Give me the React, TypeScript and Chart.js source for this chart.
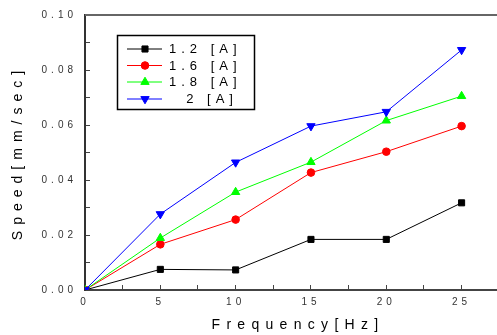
import React, { useEffect, useRef } from 'react';
import { Chart, registerables } from 'chart.js';
import { drawPoint } from 'chart.js/helpers';

Chart.register(...registerables);

const frequencyHz = [0, 5, 10, 15, 20, 25];
const speed12A = [0, 0.0075, 0.0073, 0.0184, 0.0184, 0.0317];
const speed16A = [0, 0.0166, 0.0256, 0.0427, 0.0503, 0.0596];
const speed18A = [0, 0.0189, 0.0356, 0.0465, 0.0616, 0.0705];
const speed20A = [0, 0.0276, 0.0464, 0.0596, 0.0648, 0.0873];
const seriesLabels = ['1.2 [A]', '1.6 [A]', '1.8 [A]', '  2 [A]'];
const xTickLabels = ['0', '5', '10', '15', '20', '25'];
const yTickLabels = ['0.00', '0.02', '0.04', '0.06', '0.08', '0.10'];
const xAxisTitle = 'Frequency[Hz]';
const yAxisTitle = 'Speed[mm/sec]';

const FONT = '"Liberation Sans", Arial, sans-serif';

const spacingPlugin = {
  id: 'spacing',
  beforeDraw(chart: any) {
    Object.values(chart.scales).forEach((s: any) => {
      if (s.__patched) return;
      s.__patched = true;
      const dl = s.drawLabels.bind(s);
      const dt = s.drawTitle.bind(s);
      s.drawLabels = (a: any) => {
        const c = s.ctx;
        c.save();
        c.letterSpacing = '4px';
        dl(a);
        c.restore();
      };
      s.drawTitle = (a: any) => {
        const c = s.ctx;
        c.save();
        if (s.isHorizontal()) {
          c.letterSpacing = '6.3px';
          c.translate(7, 0);
        } else {
          c.letterSpacing = '6px';
        }
        dt(a);
        c.restore();
      };
    });
  },
};

const frameLegendPlugin = {
  id: 'frameLegend',
  afterDraw(chart: any) {
    const ctx = chart.ctx;
    const area = chart.chartArea;
    ctx.save();
    // top frame line
    ctx.strokeStyle = '#666';
    ctx.lineWidth = 2;
    ctx.beginPath();
    ctx.moveTo(area.left, area.top);
    ctx.lineTo(area.right, area.top);
    ctx.stroke();
    // legend box
    const bx = 117.5, by = 35.5, bw = 137, bh = 74;
    ctx.fillStyle = '#fff';
    ctx.fillRect(bx, by, bw, bh);
    ctx.strokeStyle = '#000';
    ctx.lineWidth = 1.5;
    ctx.strokeRect(bx, by, bw, bh);
    const rows = [49, 65.5, 82, 99];
    chart.data.datasets.forEach((ds: any, i: number) => {
      const y = rows[i];
      ctx.strokeStyle = ds.borderColor;
      ctx.lineWidth = 1;
      ctx.beginPath();
      ctx.moveTo(127, y);
      ctx.lineTo(162, y);
      ctx.stroke();
      ctx.fillStyle = ds.pointBackgroundColor;
      ctx.strokeStyle = ds.pointBorderColor;
      drawPoint(ctx, { pointStyle: ds.pointStyle, rotation: ds.pointRotation || 0, radius: ds.pointRadius, borderWidth: 1 }, 145, y);
      ctx.fillStyle = '#000';
      ctx.font = '13px ' + FONT;
      (ctx as any).letterSpacing = '5px';
      ctx.textBaseline = 'middle';
      ctx.textAlign = 'left';
      ctx.fillText(ds.label, 169, y + 0.5);
      (ctx as any).letterSpacing = '0px';
    });
    ctx.restore();
  },
};

function isMultiple(v: number, step: number) {
  const r = v / step;
  return Math.abs(r - Math.round(r)) < 1e-6;
}

function zeroPad(s: any) {
  s.paddingTop = 0;
  s.paddingBottom = 0;
  s.paddingLeft = 0;
  s.paddingRight = 0;
}

export default function App() {
  const ref = useRef<HTMLCanvasElement>(null);
  useEffect(() => {
    document.body.style.margin = '0';
    document.body.style.overflow = 'hidden';
    const mk = (label: string, vals: number[], color: string, style: string, radius: number, rot = 0, order = 0) => ({
      label,
      data: frequencyHz.map((f, i) => ({ x: f, y: vals[i] })),
      borderColor: color,
      backgroundColor: color,
      pointBackgroundColor: color,
      pointBorderColor: color,
      pointStyle: style,
      pointRadius: radius,
      pointRotation: rot,
      pointBorderWidth: 1,
      borderWidth: 1,
      tension: 0,
      order,
    });
    const chart = new Chart(ref.current!, {
      type: 'line',
      data: {
        datasets: [
          mk(seriesLabels[0], speed12A, '#000000', 'rect', 4.3, 0, 4),
          mk(seriesLabels[1], speed16A, '#ff0000', 'circle', 3.8, 0, 3),
          mk(seriesLabels[2], speed18A, '#00ff00', 'triangle', 4.8, 0, 2),
          mk(seriesLabels[3], speed20A, '#0000ff', 'triangle', 4.8, 180, 1),
        ] as any,
      },
      options: {
        animation: false,
        responsive: false,
        maintainAspectRatio: false,
        layout: { autoPadding: false, padding: { top: 15, right: 0, bottom: 0, left: 0 } },
        plugins: { legend: { display: false }, tooltip: { enabled: false } },
        scales: {
          x: {
            type: 'linear',
            min: 0,
            max: 27.35,
            afterBuildTicks: (s: any) => {
              const t = [];
              for (let v = 0; v <= 25.001; v += 2.5) t.push({ value: v });
              s.ticks = t;
            },
            afterFit: (s: any) => {
              s.height = 45;
              zeroPad(s);
            },
            grid: { drawOnChartArea: false, drawTicks: true, tickLength: -5, color: '#444', lineWidth: 1 },
            border: { display: true, color: '#444', width: 2 },
            ticks: {
              autoSkip: false,
              maxRotation: 0,
              padding: 11,
              color: '#333',
              font: { family: FONT, size: 10 },
              callback: (v: any) => (isMultiple(v, 5) ? xTickLabels[Math.round(v / 5)] : ''),
            },
            title: {
              display: true,
              text: xAxisTitle,
              color: '#000',
              font: { family: FONT, size: 14 },
              padding: { top: 0, bottom: 1 },
            },
          },
          y: {
            type: 'linear',
            min: 0,
            max: 0.1,
            afterBuildTicks: (s: any) => {
              const t = [];
              for (let i = 0; i <= 10; i++) t.push({ value: i * 0.01 });
              s.ticks = t;
            },
            afterFit: (s: any) => {
              s.width = 85;
              zeroPad(s);
            },
            grid: { drawOnChartArea: false, drawTicks: true, tickLength: -5, color: '#444', lineWidth: 1 },
            border: { display: true, color: '#333', width: 2 },
            ticks: {
              autoSkip: false,
              padding: 13,
              color: '#333',
              font: { family: FONT, size: 10 },
              callback: (v: any) => (isMultiple(v, 0.02) ? yTickLabels[Math.round(v / 0.02)] : ''),
            },
            title: {
              display: true,
              text: yAxisTitle,
              color: '#000',
              font: { family: FONT, size: 14 },
              padding: { top: 10, bottom: 0 },
            },
          },
        },
      },
      plugins: [spacingPlugin, frameLegendPlugin],
    });
    return () => chart.destroy();
  }, []);
  return <canvas ref={ref} width={497} height={335} style={{ display: 'block' }} />;
}
